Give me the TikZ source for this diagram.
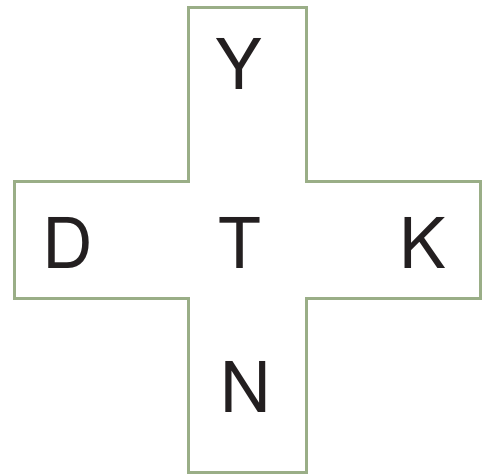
\documentclass[tikz,border=0pt]{standalone}
\usepackage{fontspec}
\setmainfont{TeX Gyre Heros}
\definecolor{crossgreen}{RGB}{154,174,135}
\definecolor{ink}{RGB}{35,31,32}
\begin{document}
\begin{tikzpicture}[x=1pt,y=-1pt,
  letter/.style={anchor=base,inner sep=0pt,text=ink,font=\fontsize{70}{70}\selectfont},
  outline/.style={draw=crossgreen,line width=3pt,line join=miter}]
\useasboundingbox (0,0) rectangle (488,474);
\draw[outline] (188,7) -- (306,7) -- (306,181) -- (480,181) -- (480,298) -- (306,298) -- (306,472) -- (188,472) -- (188,298) -- (14,298) -- (14,181) -- (188,181) -- cycle;
\node[letter] (y) at (239,89) {Y};
\node[letter] (t) at (240,268) {T};
\node[letter] (d) at (68,268) {D};
\node[letter] (k) at (423,268) {K};
\node[letter] (n) at (246,412) {N};
\end{tikzpicture}
\end{document}
